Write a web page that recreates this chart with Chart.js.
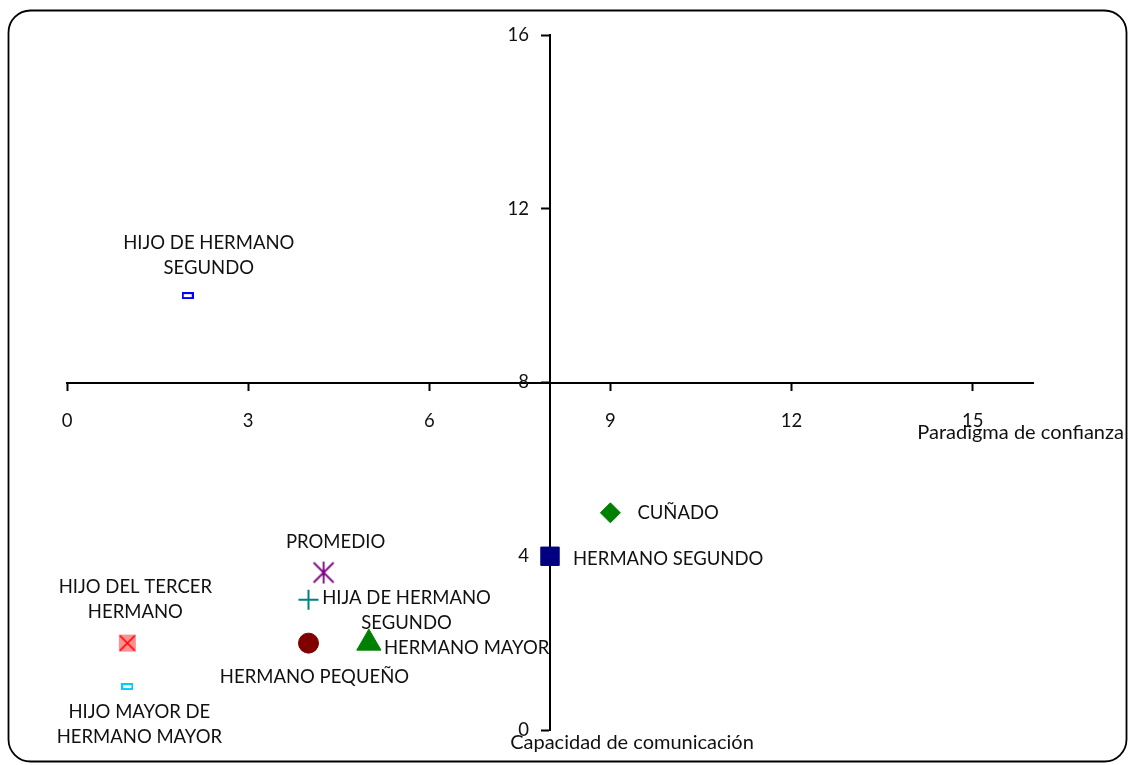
<!DOCTYPE html>
<html>
<head>
<meta charset="utf-8">
<style>
  html, body { margin: 0; padding: 0; background: #fff; }
  canvas { display: block; }
</style>
<script src="https://cdn.jsdelivr.net/npm/chart.js@4/dist/chart.umd.min.js"></script>
</head>
<body>
<canvas id="chart" width="1129" height="765"></canvas>
<script>
// Family members: trust paradigm (x) vs. communication capacity (y)
const names = [
  'HIJO DE HERMANO SEGUNDO',
  'HIJO DEL TERCER HERMANO',
  'HIJO MAYOR DE HERMANO MAYOR',
  'PROMEDIO',
  'HIJA DE HERMANO SEGUNDO',
  'HERMANO PEQUEÑO',
  'HERMANO MAYOR',
  'HERMANO SEGUNDO',
  'CUÑADO'
];
const confianza    = [2, 1, 1, 4.25, 4, 4, 5, 8, 9];
const comunicacion = [10, 2, 1, 3.625, 3, 2, 2, 4, 5];

const xTicks = [0, 3, 6, 9, 12, 15];
const yTicks = [0, 4, 8, 12, 16];
const xTitle = 'Paradigma de confianza';
const yTitle = 'Capacidad de comunicación';

const FONT = 'Lato, "Open Sans", sans-serif';
const FONT_SIZE = 18.5;
const TITLE_SIZE = 20;

// Linear scale whose vertical variant keeps its labels clear of the axis
// line (with tick padding) when the axis crosses the plot.
class CrossLinearScale extends Chart.LinearScale {
  _computeLabelItems(chartArea) {
    const items = super._computeLabelItems(chartArea);
    if (!this.isHorizontal()) {
      const shift = this.options.grid.tickLength + this.options.ticks.padding;
      items.forEach(it => { it.options.translation[0] -= shift; });
    }
    return items;
  }
}
CrossLinearScale.id = 'crossLinear';
CrossLinearScale.defaults = Chart.LinearScale.defaults;
Chart.register(CrossLinearScale);

// Custom marker bitmaps
function makeMarker(w, h, draw) {
  const c = document.createElement('canvas');
  c.width = w; c.height = h;
  draw(c.getContext('2d'), w, h);
  return c;
}
const hollowBar = color => makeMarker(12, 7, (g, w, h) => {
  g.strokeStyle = color; g.lineWidth = 2;
  g.strokeRect(1, 1, w - 2, h - 2);
});
const crossedBox = makeMarker(19, 19, (g, w, h) => {
  g.fillStyle = 'rgba(255,70,70,0.6)';
  g.fillRect(1, 1, w - 2, h - 2);
  g.strokeStyle = '#ff0000'; g.lineWidth = 1.6;
  g.beginPath();
  g.moveTo(2, 2); g.lineTo(w - 2, h - 2);
  g.moveTo(w - 2, 2); g.lineTo(2, h - 2);
  g.stroke();
});
const asterisk = makeMarker(24, 24, (g, w, h) => {
  g.strokeStyle = '#800080'; g.lineWidth = 1.8;
  g.beginPath();
  g.moveTo(w / 2, 1); g.lineTo(w / 2, h - 1);
  g.moveTo(2, 2); g.lineTo(w - 2, h - 2);
  g.moveTo(w - 2, 2); g.lineTo(2, h - 2);
  g.stroke();
});

const markerStyles = [
  { pointStyle: hollowBar('#0000ff') },
  { pointStyle: crossedBox },
  { pointStyle: hollowBar('#00ccff') },
  { pointStyle: asterisk },
  { pointStyle: 'cross', radius: 10, borderColor: '#008080', borderWidth: 2 },
  { pointStyle: 'circle', radius: 10, backgroundColor: '#800000', borderColor: '#800000', borderWidth: 1 },
  { pointStyle: 'triangle', radius: 14, backgroundColor: '#008000', borderColor: '#008000', borderWidth: 1 },
  { pointStyle: 'rect', radius: 13, backgroundColor: '#000080', borderColor: '#000080', borderWidth: 1 },
  { pointStyle: 'rectRot', radius: 10, backgroundColor: '#008000', borderColor: '#008000', borderWidth: 1 }
];

// Label text layout around each marker: [lines, dx, dy of first line, align]
const labelLayout = [
  [['HIJO DE HERMANO', 'SEGUNDO'], 21, -53, 'center'],
  [['HIJO DEL TERCER', 'HERMANO'], 8, -56, 'center'],
  [['HIJO MAYOR DE', 'HERMANO MAYOR'], 12, 25, 'center'],
  [['PROMEDIO'], 12, -31, 'center'],
  [['HIJA DE HERMANO', 'SEGUNDO'], 98, -2, 'center'],
  [['HERMANO PEQUEÑO'], 6, 34, 'center'],
  [['HERMANO MAYOR'], 15, 5, 'left'],
  [['HERMANO SEGUNDO'], 23, 3, 'left'],
  [['CUÑADO'], 27, 0, 'left']
];
const LINE_GAP = 25;

const datasets = names.map((n, i) => Object.assign({
  label: n,
  data: [{ x: confianza[i], y: comunicacion[i] }],
  radius: 10,
  hoverRadius: 10
}, markerStyles[i]));

const frame = {
  id: 'frame',
  beforeDraw(chart) {
    const g = chart.ctx;
    g.save();
    g.fillStyle = '#fff';
    g.fillRect(0, 0, chart.width, chart.height);
    g.restore();
  },
  afterDraw(chart) {
    const g = chart.ctx;
    g.save();
    g.strokeStyle = '#000'; g.lineWidth = 1.8;
    g.beginPath();
    g.roundRect(8.5, 10.5, 1118, 751, 22);
    g.stroke();
    g.restore();
  }
};

const pointLabels = {
  id: 'pointLabels',
  afterDatasetsDraw(chart) {
    const g = chart.ctx;
    g.save();
    g.font = FONT_SIZE + 'px ' + FONT;
    g.fillStyle = '#111';
    g.textBaseline = 'middle';
    chart.data.datasets.forEach((ds, i) => {
      const el = chart.getDatasetMeta(i).data[0];
      const [lines, dx, dy, align] = labelLayout[i];
      g.textAlign = align;
      lines.forEach((t, k) => g.fillText(t, el.x + dx, el.y + dy + k * LINE_GAP));
    });
    g.restore();
  }
};

const axisTitles = {
  id: 'axisTitles',
  afterDraw(chart) {
    const g = chart.ctx, xs = chart.scales.x, ys = chart.scales.y;
    g.save();
    g.font = TITLE_SIZE + 'px ' + FONT;
    g.fillStyle = '#111';
    g.textBaseline = 'middle';
    g.textAlign = 'right';
    g.fillText(xTitle, xs.right + 91, ys.getPixelForValue(8) + 50);
    g.textAlign = 'center';
    g.fillText(yTitle, xs.getPixelForValue(8) + 82, ys.bottom + 13);
    g.restore();
  }
};

new Chart(document.getElementById('chart'), {
  type: 'scatter',
  data: { datasets },
  plugins: [frame, pointLabels, axisTitles],
  options: {
    responsive: false,
    animation: false,
    events: [],
    layout: { padding: { left: 67, right: 96, top: 35, bottom: 35 } },
    plugins: { legend: { display: false }, tooltip: { enabled: false } },
    scales: {
      x: {
        type: 'linear',
        position: { y: 8 },
        min: 0, max: 16,
        afterBuildTicks: s => { s.ticks = xTicks.map(v => ({ value: v })); },
        border: { display: true, color: '#000', width: 2 },
        grid: { drawOnChartArea: false, drawTicks: true, tickLength: 7, tickWidth: 2, color: '#000' },
        ticks: { color: '#111', padding: 20, maxRotation: 0, font: { family: FONT, size: FONT_SIZE } }
      },
      y: {
        type: 'crossLinear',
        position: { x: 8 },
        min: 0, max: 16,
        afterBuildTicks: s => { s.ticks = yTicks.map(v => ({ value: v })); },
        border: { display: true, color: '#000', width: 2 },
        grid: { drawOnChartArea: false, drawTicks: true, tickLength: 8, tickWidth: 2, color: '#000' },
        ticks: { color: '#111', padding: 13, font: { family: FONT, size: FONT_SIZE } }
      }
    }
  }
});
</script>
</body>
</html>
